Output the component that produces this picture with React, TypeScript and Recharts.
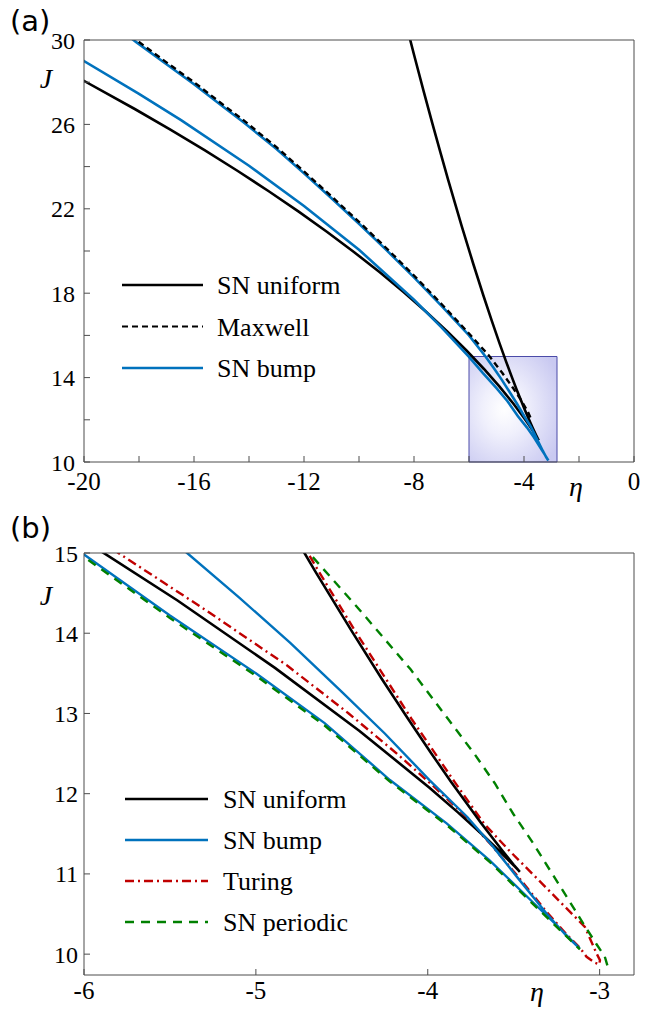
import React from 'react';
import { LineChart, Line, XAxis, YAxis, ReferenceArea, Legend } from 'recharts';

const SERIF = 'Liberation Serif, DejaVu Serif, serif';
const SANS = 'DejaVu Sans, Liberation Sans, sans-serif';
const AXIS = '#4d4d4d';
const BLUE = '#0072bd';
const RED = '#c00000';
const GREEN = '#008000';

// (eta, J) pairs
const snUniform: [number, number][] = [
  [-20.052, 28.1], [-18.154, 26.73], [-16.859, 25.753], [-15.616, 24.778], [-14.423, 23.804],
  [-13.282, 22.833], [-12.193, 21.865], [-11.157, 20.901], [-10.174, 19.942], [-9.244, 18.989],
  [-8.37, 18.043], [-7.551, 17.108], [-6.791, 16.187], [-6.092, 15.285], [-5.456, 14.408],
  [-4.889, 13.568], [-4.397, 12.782], [-3.99, 12.075], [-3.823, 11.764], [-3.683, 11.491],
  [-3.574, 11.267], [-3.5, 11.106], [-3.469, 11.037], [-3.464, 11.026], [-3.467, 11.033],
  [-3.479, 11.062], [-3.5, 11.114], [-3.53, 11.194], [-3.571, 11.304], [-3.69, 11.635],
  [-3.866, 12.153], [-3.979, 12.501], [-4.111, 12.921], [-4.266, 13.427], [-4.444, 14.033],
  [-4.651, 14.758], [-4.889, 15.625], [-5.164, 16.662], [-5.48, 17.904], [-5.846, 19.396],
  [-6.268, 21.195], [-6.758, 23.373], [-7.032, 24.634], [-7.328, 26.026], [-7.648, 27.568],
  [-7.994, 29.278], [-8.291, 30.78],
];

const maxwell: [number, number][] = [
  [-18.3, 30.2], [-18.1, 30.0], [-17, 28.94], [-16, 28.0], [-15, 26.99], [-14.2, 26.2],
  [-13, 24.92], [-12, 23.77], [-11, 22.59], [-10, 21.38], [-9, 20.13], [-8, 18.84],
  [-7, 17.49], [-6, 16.09], [-5.3, 15.08], [-4.8, 14.24], [-4.4, 13.51], [-4.1, 12.92],
  [-3.85, 12.36], [-3.75, 12.05],
];

const snBump: [number, number][] = [
  [-20.3, 29.23], [-20, 29.0], [-18, 27.45], [-16.47, 26.2], [-14, 24.04], [-12, 22.13],
  [-10, 20.06], [-8, 17.69], [-7, 16.38], [-6, 14.98], [-5.5, 14.22], [-5, 13.5],
  [-4.6, 12.88], [-4.22, 12.17], [-3.89, 11.63], [-3.64, 11.17], [-3.39, 10.65],
  [-3.25, 10.36], [-3.115, 10.07], [-3.19, 10.22], [-3.31, 10.51], [-3.48, 10.96],
  [-3.62, 11.34], [-3.77, 11.71], [-3.99, 12.17], [-4.25, 12.75], [-4.5, 13.27],
  [-4.8, 13.88], [-5.1, 14.45], [-5.4, 15.0], [-6, 16.0], [-7, 17.4], [-8, 18.75],
  [-9, 20.04], [-10, 21.29], [-11, 22.5], [-12, 23.68], [-13, 24.83], [-14.2, 26.1],
  [-15, 26.9], [-16, 27.9], [-17, 28.85], [-18.1, 29.9], [-18.3, 30.1],
];

const turing: [number, number][] = [
  [-5.92, 15.2], [-5.8, 15.0], [-5.3, 14.3], [-4.82, 13.6], [-4.46, 13.0], [-4.18, 12.5],
  [-3.97, 12.1], [-3.8, 11.76], [-3.63, 11.36], [-3.48, 10.98], [-3.31, 10.53],
  [-3.19, 10.24], [-3.115, 10.08], [-3.076, 9.967], [-3.027, 9.892], [-3.002, 9.872],
  [-2.998, 9.925], [-3.018, 10.01], [-3.086, 10.34], [-3.22, 10.63], [-3.386, 10.99],
  [-3.53, 11.3], [-3.67, 11.62], [-3.846, 12.153], [-4.091, 12.921], [-4.424, 14.033],
  [-4.631, 14.758], [-4.869, 15.625],
];

const snPeriodic: [number, number | null][] = [
  [-6.05, 15.03], [-6, 14.95], [-5.5, 14.19], [-5, 13.47], [-4.6, 12.85], [-4.22, 12.15],
  [-3.89, 11.61], [-3.64, 11.15], [-3.39, 10.63], [-3.25, 10.34], [-3.115, 10.06],
  [-3.05, null],
  [-2.955, 9.86], [-2.97, 9.97], [-3.02, 10.13], [-3.095, 10.38], [-3.19, 10.71],
  [-3.29, 11.05], [-3.386, 11.38], [-3.503, 11.75], [-3.61, 12.13], [-3.73, 12.5],
  [-3.85, 12.84], [-4.1, 13.55], [-4.4, 14.3], [-4.69, 15.0], [-4.77, 15.2],
];

const aEtaTicks = [-20, -18, -16, -14, -12, -10, -8, -6, -4, -2, 0];
const aEtaLabels = [-20, -16, -12, -8, -4, 0];
const aJTicks = [10, 12, 14, 16, 18, 20, 22, 24, 26, 28, 30];
const aJLabels = [10, 14, 18, 22, 26, 30];
const bEtaTicks = [-6, -5, -4, -3];
const bJTicks = [10, 11, 12, 13, 14, 15];

const zoomEta = [-6, -2.8];
const zoomJ = [10, 15];

const legendA = ['SN uniform', 'Maxwell', 'SN bump'];
const legendB = ['SN uniform', 'SN bump', 'Turing', 'SN periodic'];

const pts = (arr: [number, number | null][]) => arr.map(([eta, J]) => ({ eta, J }));

const xTickStyle = { fill: '#000', fontSize: 25, fontFamily: SERIF, style: { fontFamily: SERIF } };
const yTickStyle = { fill: '#000', fontSize: 24, fontFamily: SERIF, style: { fontFamily: SERIF } };
const serifText = { fontFamily: SERIF };

type Item = { name: string; color: string; width: number; dash?: string };

function LegendRows({ items, lineLen, textX, gap }: { items: Item[]; lineLen: number; textX: number; gap: number }) {
  return (
    <svg width={320} height={30 + gap * items.length} style={{ display: 'block', overflow: 'visible' }}>
      {items.map((it, i) => {
        const y = 20 + i * gap;
        return (
          <g key={it.name}>
            <line x1={0} x2={lineLen} y1={y} y2={y} stroke={it.color} strokeWidth={it.width} strokeDasharray={it.dash} />
            <text x={textX} y={y + 9} style={serifText} fontSize={26} fill="#000">{it.name}</text>
          </g>
        );
      })}
    </svg>
  );
}

const itemsA: Item[] = [
  { name: legendA[0], color: '#000', width: 2.6 },
  { name: legendA[1], color: '#000', width: 2.2, dash: '6 4' },
  { name: legendA[2], color: BLUE, width: 2.6 },
];
const itemsB: Item[] = [
  { name: legendB[0], color: '#000', width: 2.6 },
  { name: legendB[1], color: BLUE, width: 2.4 },
  { name: legendB[2], color: RED, width: 2.4, dash: '9 4 2 4' },
  { name: legendB[3], color: GREEN, width: 2.4, dash: '9 7' },
];

function PanelA() {
  return (
    <LineChart width={645} height={510} margin={{ top: 30, right: 1, bottom: 18, left: 24 }}>
      <defs>
        <radialGradient id="zoomFill" cx="40%" cy="50%" r="70%">
          <stop offset="0%" stopColor="#ffffff" />
          <stop offset="35%" stopColor="#f0f0fc" />
          <stop offset="100%" stopColor="#c9c9f1" />
        </radialGradient>
      </defs>
      <XAxis type="number" dataKey="eta" domain={[-20, 0]} ticks={aEtaTicks} interval={0} allowDataOverflow
        tickFormatter={(v: number) => (aEtaLabels.includes(v) ? String(v) : '')}
        tickSize={-6} tickMargin={16} stroke={AXIS} tick={xTickStyle} height={30} />
      <XAxis xAxisId="top" orientation="top" type="number" dataKey="eta" domain={[-20, 0]} ticks={aEtaTicks}
        interval={0} allowDataOverflow tick={false} tickSize={-6} stroke={AXIS} height={10} />
      <YAxis type="number" dataKey="J" domain={[10, 30]} ticks={aJTicks} interval={0} allowDataOverflow
        tickFormatter={(v: number) => (aJLabels.includes(v) ? String(v) : '')}
        tickSize={-6} tickMargin={15} stroke={AXIS} tick={yTickStyle} width={60} />
      <YAxis yAxisId="right" orientation="right" type="number" dataKey="J" domain={[10, 30]} ticks={aJTicks}
        interval={0} allowDataOverflow tick={false} tickSize={-6} stroke={AXIS} width={10} />
      <ReferenceArea x1={zoomEta[0]} x2={zoomEta[1]} y1={zoomJ[0]} y2={zoomJ[1]}
        fill="url(#zoomFill)" fillOpacity={1} stroke="#4b4ba8" strokeWidth={1} />
      <Line data={pts(snUniform)} dataKey="J" type="linear" stroke="#000" strokeWidth={2.6} dot={false} activeDot={false} isAnimationActive={false} />
      <Line data={pts(snBump)} dataKey="J" type="linear" stroke={BLUE} strokeWidth={2.6} dot={false} activeDot={false} isAnimationActive={false} />
      <Line data={pts(maxwell)} dataKey="J" type="linear" stroke="#000" strokeWidth={2.4} strokeDasharray="6 4" dot={false} activeDot={false} isAnimationActive={false} />
      <Legend layout="vertical" verticalAlign="middle" align="center"
        wrapperStyle={{ left: 122, top: 265, width: 320 }}
        content={() => <LegendRows items={itemsA} lineLen={81} textX={95} gap={41.5} />} />
    </LineChart>
  );
}

function PanelB() {
  return (
    <LineChart width={645} height={497} margin={{ top: 30, right: 1, bottom: 5, left: 24 }}>
      <XAxis type="number" dataKey="eta" domain={[-6, -2.8]} ticks={bEtaTicks} interval={0} allowDataOverflow
        tickSize={-6} tickMargin={12} stroke={AXIS} tick={xTickStyle} height={30} />
      <XAxis xAxisId="top" orientation="top" type="number" dataKey="eta" domain={[-6, -2.8]} ticks={bEtaTicks}
        allowDataOverflow tick={false} tickLine={false} stroke={AXIS} height={10} />
      <YAxis type="number" dataKey="J" domain={[9.74, 15]} ticks={bJTicks} interval={0} allowDataOverflow
        tickSize={-6} tickMargin={12} stroke={AXIS} tick={yTickStyle} width={60} />
      <YAxis yAxisId="right" orientation="right" type="number" dataKey="J" domain={[9.74, 15]} ticks={bJTicks}
        allowDataOverflow tick={false} tickLine={false} stroke={AXIS} width={10} />
      <Line data={pts(turing)} dataKey="J" type="linear" stroke={RED} strokeWidth={2.4} strokeDasharray="9 4 2 4" dot={false} activeDot={false} isAnimationActive={false} />
      <Line data={pts(snUniform)} dataKey="J" type="linear" stroke="#000" strokeWidth={2.6} dot={false} activeDot={false} isAnimationActive={false} />
      <Line data={pts(snBump)} dataKey="J" type="linear" stroke={BLUE} strokeWidth={2.4} dot={false} activeDot={false} isAnimationActive={false} />
      <Line data={pts(snPeriodic)} dataKey="J" type="linear" stroke={GREEN} strokeWidth={2.4} strokeDasharray="9 7" dot={false} activeDot={false} isAnimationActive={false} />
      <Legend layout="vertical" verticalAlign="middle" align="center"
        wrapperStyle={{ left: 125, top: 266, width: 320 }}
        content={() => <LegendRows items={itemsB} lineLen={83} textX={98} gap={41} />} />
    </LineChart>
  );
}

export default function App() {
  const italic = { fontFamily: SERIF, fontStyle: 'italic' as const };
  return (
    <div style={{ position: 'absolute', left: 0, top: 0, width: 645, height: 1010, background: '#fff' }}>
      <div style={{ position: 'absolute', left: 0, top: 0 }}>
        <PanelA />
      </div>
      <div style={{ position: 'absolute', left: 0, top: 513 }}>
        <PanelB />
      </div>
      <svg width={645} height={1010} style={{ position: 'absolute', left: 0, top: 0, pointerEvents: 'none' }}>
        <text x={10} y={31} style={{ fontFamily: SANS }} fontSize={29} fill="#000">(a)</text>
        <text x={10} y={538} style={{ fontFamily: SANS }} fontSize={29} fill="#000">(b)</text>
        <text x={46} y={88} textAnchor="middle" style={italic} fontSize={28} fill="#000">J</text>
        <text x={46} y={605} textAnchor="middle" style={italic} fontSize={28} fill="#000">J</text>
        <text x={576} y={496} textAnchor="middle" style={italic} fontSize={28} fill="#000">η</text>
        <text x={537} y={1001} textAnchor="middle" style={italic} fontSize={28} fill="#000">η</text>
      </svg>
    </div>
  );
}
